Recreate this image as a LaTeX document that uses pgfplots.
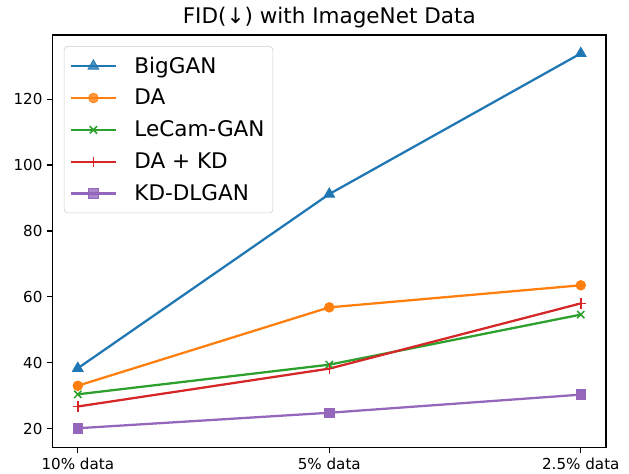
\documentclass[border=0pt]{standalone}
\usepackage{pgfplots}
\pgfplotsset{compat=1.18}
\usepackage{fontspec}
\setmainfont{DejaVu Sans}
\definecolor{c0}{HTML}{1F77B4}
\definecolor{c1}{HTML}{FF7F0E}
\definecolor{c2}{HTML}{2CA02C}
\definecolor{c3}{HTML}{D62728}
\definecolor{c4}{HTML}{9467BD}
\begin{document}
\begin{tikzpicture}
\begin{axis}[
  name=ax,
  scale only axis,
  width=398.4pt, height=296.9pt,
  xmin=-0.1, xmax=2.1,
  ymin=14.3, ymax=139.5,
  xtick={0,1,2},
  xticklabels={10\% data, 5\% data, 2.5\% data},
  ytick={20,40,60,80,100,120},
  tick align=outside,
  xtick pos=left, ytick pos=left,
  major tick length=3.8pt,
  tick style={line width=0.87pt, black},
  axis line style={line width=0.87pt},
  tick label style={font=\fontsize{10.9}{13}\selectfont},
  /pgf/number format/assume math mode=true,
  title={FID(↓) with ImageNet Data},
  title style={font=\fontsize{15.5}{18}\selectfont, at={(0.5,1)}, anchor=base, yshift=2pt},
  legend style={at={(0.0204,0.973)}, anchor=north west, draw=black!20, rounded corners=2.5pt,
    fill=white, fill opacity=0.8, text opacity=1, font=\fontsize{15.5}{18}\selectfont,
    row sep=6pt, column sep=10.5pt, inner xsep=4pt, inner ysep=5.5pt},
  legend cell align=left,
  legend image code/.code={\draw[mark repeat=2,mark phase=2] plot coordinates {(0cm,0cm) (0.57cm,0cm) (1.14cm,0cm)};},
]
\addplot[c0, line width=1.63pt, mark=triangle*, mark size=4.5pt, mark options={solid, fill=c0, line width=0.5pt}] coordinates {(0,38.3) (1,91.2) (2,133.9)};
\addlegendentry{BigGAN}
\addplot[c1, line width=1.63pt, mark=*, mark size=3.5pt, mark options={solid, fill=c1, line width=0.5pt}] coordinates {(0,33.0) (1,56.8) (2,63.5)};
\addlegendentry{DA}
\addplot[c2, line width=1.63pt, mark=x, mark size=3.7pt, mark options={solid, line width=1.1pt}] coordinates {(0,30.4) (1,39.4) (2,54.6)};
\addlegendentry{LeCam-GAN}
\addplot[c3, line width=1.63pt, mark=+, mark size=3.7pt, mark options={solid, line width=1.1pt}] coordinates {(0,26.7) (1,38.2) (2,58.0)};
\addlegendentry{DA + KD}
\addplot[c4, line width=1.63pt, mark=square*, mark size=3.5pt, mark options={solid, fill=c4, line width=0.5pt}] coordinates {(0,20.1) (1,24.8) (2,30.3)};
\addlegendentry{KD-DLGAN}
\end{axis}
\pgfresetboundingbox
\path[use as bounding box] ([xshift=-37.9pt,yshift=-19.2pt]ax.south west) rectangle ([xshift=16.6pt,yshift=25.2pt]ax.north east);
\end{tikzpicture}
\end{document}
